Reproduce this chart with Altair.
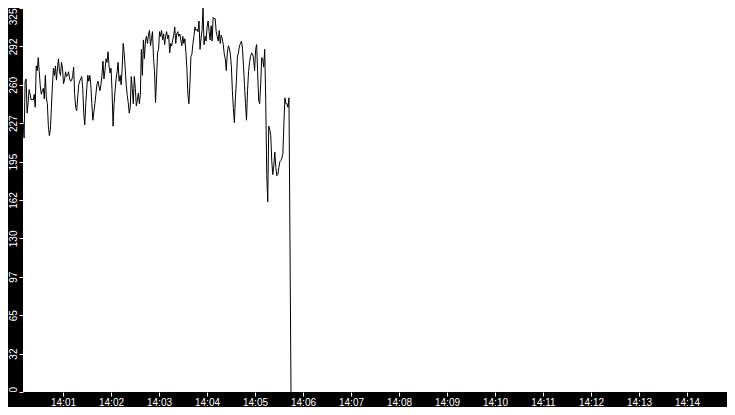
import altair as alt
import pandas as pd

values = [
    276, 260, 255, 247, 244, 257, 225, 213, 228, 215, 263, 265, 236, 245, 256, 252,
    247, 248, 247, 252, 241, 276, 272, 283, 271, 259, 252, 255, 257, 248, 268, 249,
    244, 225, 217, 222, 241, 259, 274, 268, 276, 264, 274, 282, 271, 268, 279, 274,
    261, 264, 271, 267, 268, 271, 265, 263, 264, 267, 275, 252, 241, 238, 249, 260,
    263, 265, 267, 257, 236, 226, 244, 257, 268, 263, 268, 260, 244, 230, 237, 244,
    252, 260, 263, 259, 255, 260, 268, 280, 265, 272, 282, 279, 288, 276, 270, 274,
    255, 225, 244, 255, 265, 271, 279, 263, 268, 260, 274, 295, 287, 274, 260, 251,
    245, 236, 241, 267, 257, 244, 267, 257, 242, 247, 253, 244, 252, 290, 268, 298,
    282, 297, 301, 295, 302, 306, 293, 299, 305, 283, 271, 245, 265, 287, 290, 305,
    301, 306, 298, 303, 294, 301, 305, 299, 302, 287, 295, 293, 298, 302, 309, 295,
    303, 305, 301, 303, 298, 293, 301, 295, 299, 288, 274, 252, 244, 260, 284, 286,
    295, 301, 309, 306, 307, 305, 314, 290, 299, 306, 325, 294, 301, 297, 309, 314,
    305, 298, 310, 297, 317, 316, 316, 305, 301, 297, 306, 295, 302, 299, 294, 286,
    282, 272, 287, 293, 291, 286, 276, 255, 240, 228, 249, 263, 284, 287, 293, 295,
    297, 291, 276, 260, 244, 230, 255, 271, 279, 284, 287, 286, 282, 272, 290, 294,
    271, 247, 244, 260, 283, 282, 275, 290, 247, 184, 161, 225, 222, 217, 195, 184,
    192, 203, 190, 183, 184, 190, 195, 196, 198, 202, 228, 249, 244, 244, 241, 249,
    125, 0,
]
start = pd.Timestamp("2024-01-01 14:00:00")
end = pd.Timestamp("2024-01-01 14:05:45")
times = pd.date_range(start, end, periods=len(values))

y_ticks = [0, 32.5, 65, 97.5, 130, 162.5, 195, 227.5, 260, 292.5, 325]
x_tick_labels = ["14:01", "14:02", "14:03", "14:04", "14:05", "14:06", "14:07",
                 "14:08", "14:09", "14:10", "14:11", "14:12", "14:13", "14:14"]
x_ticks = [f"2024-01-01T{t}:00" for t in x_tick_labels]
x_domain = ["2024-01-01T14:00:10", "2024-01-01T14:14:50"]

df = pd.DataFrame({"time": times.strftime("%Y-%m-%dT%H:%M:%S.%f").str[:-3], "value": values})

font = "Liberation Sans"
W, H, BAND = 704, 384, 15

y_label_align = {
    "condition": [
        {"test": "datum.value >= 325", "value": "right"},
        {"test": "datum.value <= 0", "value": "left"},
    ],
    "value": "center",
}

line = alt.Chart(df).mark_line(color="black", strokeWidth=1, clip=True, interpolate="linear").encode(
    x=alt.X("time:T",
            scale=alt.Scale(domain=x_domain, nice=False),
            axis=alt.Axis(values=x_ticks, format="%H:%M", title=None, domain=False, grid=False,
                          tickColor="white", tickSize=4, labelColor="white", labelFont=font,
                          labelFontSize=10, labelPadding=1, labelFlush=False, labelOverlap=False,
                          zindex=2)),
    y=alt.Y("value:Q",
            scale=alt.Scale(domain=[0, 325], nice=False, zero=False),
            axis=alt.Axis(values=y_ticks, labelExpr="floor(datum.value)", title=None, domain=False,
                          grid=False, tickColor="white", tickSize=4, labelColor="white",
                          labelFont=font, labelFontSize=10, labelAngle=-90, labelAlign=y_label_align,
                          labelBaseline="bottom", labelPadding=1, labelFlush=False,
                          labelOverlap=False, zindex=2)),
)

band_df = pd.DataFrame({"band": ["axis"]})
left_band = alt.Chart(band_df).mark_rect(color="black").encode(
    x=alt.value(-BAND), x2=alt.value(0), y=alt.value(0), y2=alt.value(H + BAND)
)
bottom_band = alt.Chart(band_df).mark_rect(color="black").encode(
    x=alt.value(-BAND), x2=alt.value(W), y=alt.value(H), y2=alt.value(H + BAND)
)

chart = alt.layer(left_band, bottom_band, line).properties(
    width=W, height=H,
    autosize=alt.AutoSizeParams(type="none"),
    padding={"left": BAND, "top": 0, "right": 0, "bottom": BAND},
    background="white",
).configure_view(fill="white", stroke="transparent")

chart.save("out.html", embed_options={"renderer": "svg", "actions": False})
